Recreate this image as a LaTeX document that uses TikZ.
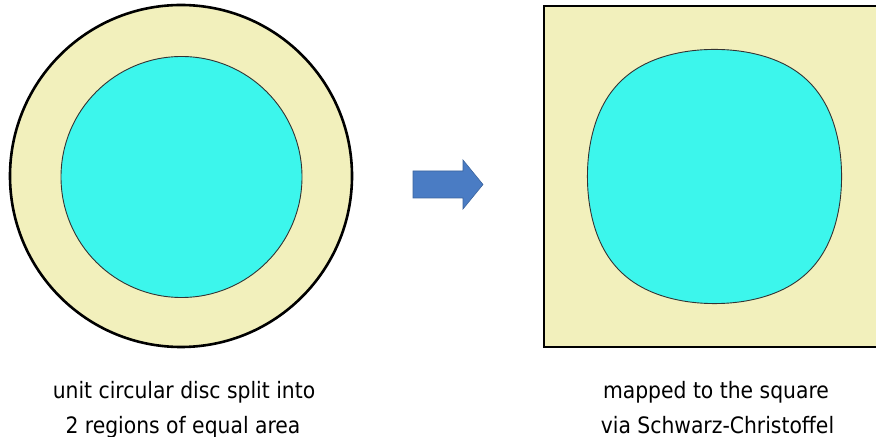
\documentclass[tikz,border=0pt]{standalone}
\usepackage{fontspec}
\setmainfont{DejaVu Sans Condensed}
\usetikzlibrary{arrows.meta}
\definecolor{discfill}{RGB}{242,240,188}
\definecolor{corefill}{RGB}{60,246,236}
\definecolor{arrowblue}{RGB}{74,124,196}
\tikzset{
    rim/.style = {
        draw = black,
        line width = 1.3pt,
        fill = discfill
    },
    core/.style = {
        draw = black!80,
        line width = 0.45pt,
        fill = corefill
    },
    caption/.style = {
        anchor = base,
        inner sep = 0pt,
        font = \fontsize{11.3}{14}\selectfont
    },
    declare function = {
        scx(\t) = 0.7071*cos(\t) - 0.01768*cos(5*\t) + 0.00184*cos(9*\t) - 0.000266*cos(13*\t);
        scy(\t) = 0.7071*sin(\t) - 0.01768*sin(5*\t) + 0.00184*sin(9*\t) - 0.000266*sin(13*\t);
    }
}

\begin{document}
\begin{tikzpicture}[x = 0.5pt, y = -0.5pt]

    \clip (0, 0) rectangle (876, 437);

    % disc and its inner half
    \filldraw[rim] (181, 176) circle (171);
    \filldraw[core] (181.5, 177) circle (120.5);

    % block arrow
    \filldraw[arrowblue, draw = arrowblue!80!black, line width = 0.3pt] (413, 171) -- (463, 171) -- (463, 160) -- (483, 184.5) -- (463, 209) -- (463, 198) -- (413, 198) -- cycle;

    % square and the image of the inner disc
    \filldraw[rim] (544, 6) rectangle (885, 347);
    \filldraw[core] plot[domain = 0:357, samples = 120, smooth cycle] ({714.5 + 183.9*scx(\x)}, {176.5 + 183.9*scy(\x)});

    \node[caption] (disctop) at (184, 398) {unit circular disc split into};
    \node[caption] (discbot) at (183, 433) {2 regions of equal area};
    \node[caption] (squaretop) at (716, 398) {mapped to the square};
    \node[caption] (squarebot) at (717.5, 433) {via Schwarz-Christoffel};

\end{tikzpicture}
\end{document}
